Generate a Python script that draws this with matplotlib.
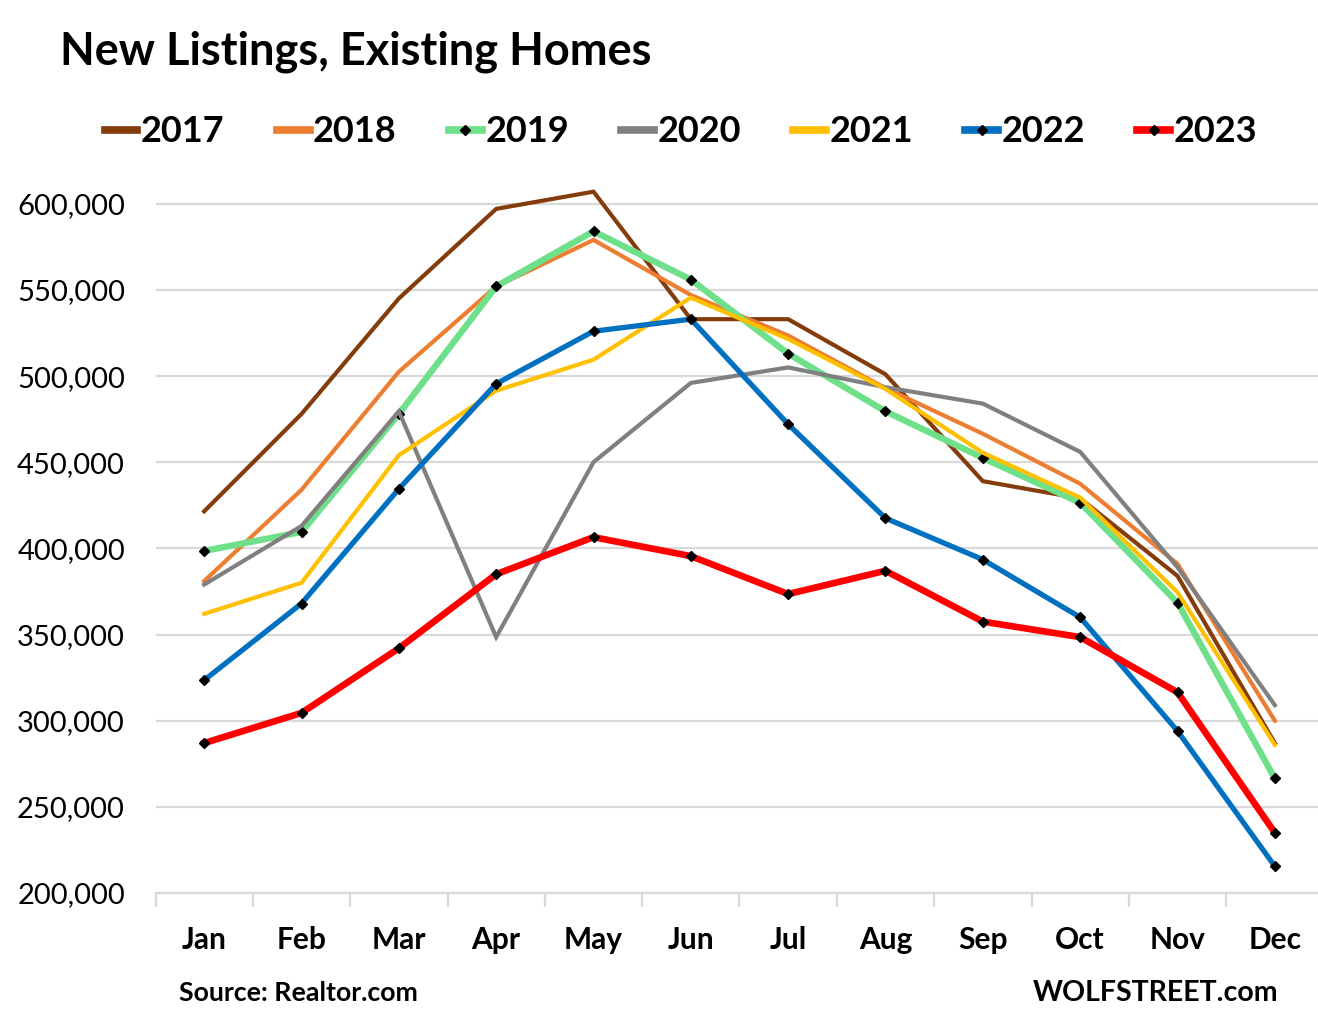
import numpy as np
import matplotlib
matplotlib.use('Agg')
import matplotlib.pyplot as plt

# data
months = ['Jan', 'Feb', 'Mar', 'Apr', 'May', 'Jun', 'Jul', 'Aug', 'Sep', 'Oct', 'Nov', 'Dec']
y2017 = [421500, 478000, 545000, 597000, 607000, 533000, 533000, 501000, 439000, 429000, 384000, 287000]
y2018 = [381000, 434000, 502500, 552000, 579000, 547000, 523500, 493000, 466500, 437500, 391000, 300000]
y2019 = [398500, 409500, 478000, 552000, 584000, 556000, 513000, 479500, 452500, 426500, 368500, 266500]
y2020 = [379000, 413000, 479500, 348500, 450000, 496000, 505000, 493500, 484000, 456000, 389000, 309000]
y2021 = [362000, 380000, 454000, 491500, 509500, 545500, 521500, 492500, 455500, 429500, 374500, 286000]
y2022 = [323500, 368000, 434500, 495500, 526000, 533000, 472000, 417500, 393500, 360000, 294000, 215500]
y2023 = [287000, 304500, 342000, 385000, 406500, 395500, 373500, 387000, 357500, 348500, 316500, 235000]

years = ['2017', '2018', '2019', '2020', '2021', '2022', '2023']
series = [y2017, y2018, y2019, y2020, y2021, y2022, y2023]
colors = ['#843c0c', '#ed7d31', '#6ee08a', '#808080', '#ffc000', '#0070c0', '#ff0000']
widths = [3.0, 3.0, 4.6, 3.0, 3.0, 3.8, 4.8]
markers = [None, None, 'D', None, None, 'D', 'D']

plt.rcParams['font.family'] = ['Lato', 'DejaVu Sans']

fig = plt.figure(figsize=(13.18, 10.28), dpi=100)
ax = fig.add_axes([155.5/1318, 1-893/1028, 1168/1318, (893-186.5)/1028])

x = np.arange(len(months))
for name, vals, c, lw, m in zip(years, series, colors, widths, markers):
    ax.plot(x, vals, color=c, linewidth=lw, label=name, marker=m, markersize=5,
            markerfacecolor='black', markeredgecolor='black', clip_on=False,
            solid_joinstyle='miter')

ax.set_xlim(-0.5, 11.5)
ax.set_ylim(200000, 610000)
ax.set_yticks(np.arange(200000, 600001, 50000))
ax.set_yticklabels(['{:,}'.format(v) for v in range(200000, 600001, 50000)], fontsize=21)
ax.grid(axis='y', color='#d9d9d9', linewidth=1.6)
ax.set_axisbelow(True)

ax.set_xticks(x)
ax.set_xticklabels(months, fontsize=21.5, fontweight='bold')
ax.set_xticks(np.arange(-0.5, 12, 1), minor=True)
ax.tick_params(axis='x', which='major', length=0, pad=24)
ax.tick_params(axis='x', which='minor', length=10, width=1.6, color='#d9d9d9')
ax.tick_params(axis='y', length=0, pad=22)
for s in ['top', 'right', 'left']:
    ax.spines[s].set_visible(False)
ax.spines['bottom'].set_color('#d9d9d9')
ax.spines['bottom'].set_linewidth(1.6)

fig.text(60/1318, 1-52/1028, 'New Listings, Existing Homes', fontsize=32.5, fontweight='bold',
         va='center', ha='left')

leg = fig.legend(loc='center', bbox_to_anchor=(681/1318, 1-132/1028), ncol=7, frameon=False,
                 prop={'size': 26, 'weight': 'bold'}, handlelength=0.9, handletextpad=0.1,
                 columnspacing=1.45)
for h in leg.legend_handles:
    h.set_linewidth(5.5)

fig.text(179/1318, 1-993/1028, 'Source: Realtor.com', fontsize=19.3, fontweight='bold',
         va='center', ha='left')
fig.text(1278/1318, 1-993/1028, 'WOLFSTREET.com', fontsize=20.5, fontweight='bold',
         va='center', ha='right')

fig.savefig('out.png', dpi=100)
